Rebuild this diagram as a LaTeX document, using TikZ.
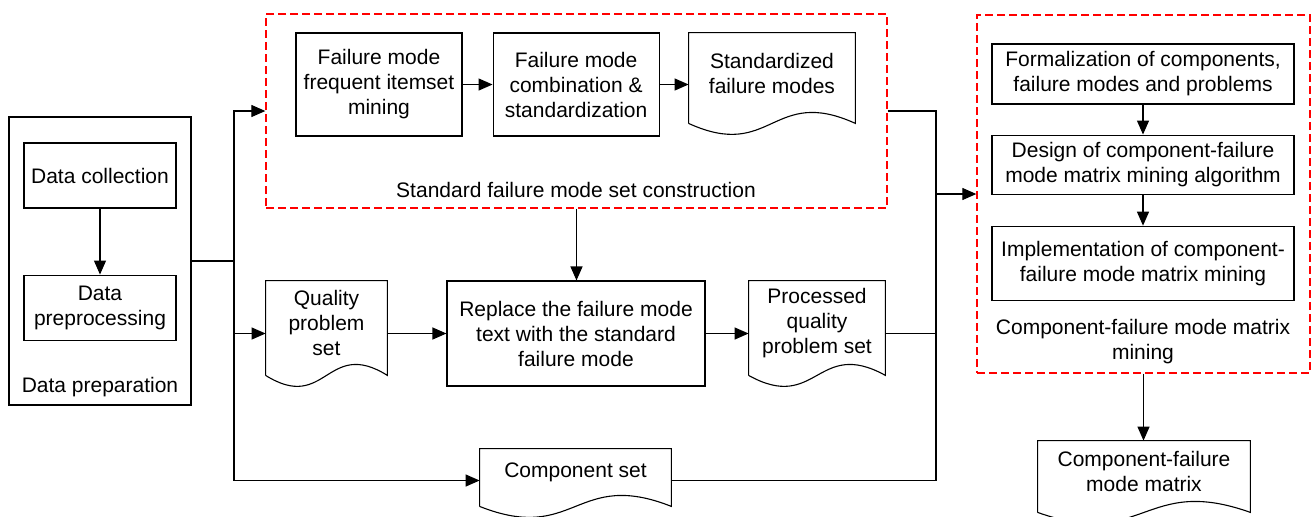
\documentclass[tikz,border=0pt]{standalone}
\usepackage{fontspec}
\setmainfont{Liberation Sans}
\usetikzlibrary{arrows.meta,positioning,calc}

% document shape: box with wavy bottom, drawn round a named node
\newcommand{\docwave}[1]{%
  \draw[outline] ($(#1.south west)+(0,10)$) -- (#1.north west) -- (#1.north east) -- ($(#1.south east)+(0,10)$)
    .. controls ($(#1.south)+(0,-28)$) and ($(#1.south)+(0,48)$) .. ($(#1.south west)+(0,10)$);}

\begin{document}
\begin{tikzpicture}[x=0.5pt,y=-0.5pt,font=\fontsize{10.5}{12.5}\selectfont,
	process/.style={rectangle,draw,line width=0.55pt,align=center,inner sep=1pt},
	doc/.style={rectangle,align=center,inner sep=1pt},
	outerbox/.style={rectangle,draw,line width=0.55pt,inner sep=0pt},
	group/.style={rectangle,draw=red,line width=0.65pt,dash pattern=on 4pt off 2pt,inner sep=0pt},
	outline/.style={line width=0.55pt},
	link/.style={line width=0.6pt},
	paths/.style={-{Triangle[length=7pt,width=6pt]},line width=0.6pt}
	]
\useasboundingbox (0,0) rectangle (1312,516);

% data preparation
\node [outerbox, minimum width=91pt, minimum height=144pt] (prep) at (100,261) {};
\node [process, minimum width=76pt, minimum height=32.5pt] (collect) at (100,175.5) {Data collection};
\node [process, minimum width=76pt, minimum height=32.5pt] (preproc) [below=33pt of collect] {Data\\preprocessing};
\node (preplabel) at (100,387) {Data preparation};

% standard failure mode set construction
\node [group, minimum width=310.5pt, minimum height=97pt] (construct) at (576.5,111) {};
\node [process, minimum width=83pt, minimum height=51.5pt] (fim) at (379,84.5) {Failure mode\\frequent itemset\\mining};
\node [process, minimum width=83pt, minimum height=51.5pt] (comb) [right=15pt of fim] {Failure mode\\combination \&\\standardization};
\node [doc, minimum width=83pt, minimum height=40pt] (stdfm) at (772,73) {Standardized\\failure modes};
\node (conlabel) at (576,190) {Standard failure mode set construction};

% middle and bottom rows
\node [doc, minimum width=60.5pt, minimum height=42pt] (quality) at (326.5,323) {Quality\\problem\\set};
\node [process, minimum width=129pt, minimum height=52.5pt] (replace) at (576,333.5) {Replace the failure mode\\text with the standard\\failure mode};
\node [doc, minimum width=68pt, minimum height=42pt] (processed) at (817,323) {Processed\\quality\\problem set};
\node [doc, minimum width=95.5pt, minimum height=23.5pt] (compset) at (575.5,472.5) {Component set};

% component-failure mode matrix mining
\node [group, minimum width=166.5pt, minimum height=179pt] (matrix) at (1143.5,194) {};
\node [process, minimum width=151pt, minimum height=30pt] (formal) at (1143,74) {Formalization of components,\\failure modes and problems};
\node [process, minimum width=151pt, minimum height=29.5pt] (design) [below=15pt of formal] {Design of component-failure\\mode matrix mining algorithm};
\node [process, minimum width=151pt, minimum height=37pt] (impl) [below=15.5pt of design] {Implementation of component-\\failure mode matrix mining};
\node [align=center] (matlabel) at (1143,342) {Component-failure mode matrix\\mining};
\node [doc, minimum width=106pt, minimum height=30.5pt] (cfm) at (1144,471.5) {Component-failure\\mode matrix};

\docwave{stdfm}
\docwave{quality}
\docwave{processed}
\docwave{compset}
\docwave{cfm}

% connectors
\coordinate (j1) at (234,261);
\coordinate (j2) at (936,194);
\draw [paths] (collect) -- (preproc);
\draw [link] (prep.east) -- (j1);
\draw [paths] (j1) |- (construct.west);
\draw [paths] (j1) |- (quality.west |- replace.west);
\draw [paths] (j1) |- ([yshift=-4pt]compset.west);
\draw [paths] (fim) -- (comb);
\draw [paths] (comb.east) -- (comb.east -| stdfm.west);
\draw [paths] (construct.south) -- (construct.south |- replace.north);
\draw [paths] (quality.east |- replace.west) -- (replace.west);
\draw [paths] (replace.east) -- (replace.east -| processed.west);
\draw [paths] (construct.east) -| (j2) -- (matrix.west);
\draw [link] (processed.east |- replace.east) -| (j2);
\draw [link] ([yshift=-4pt]compset.east) -| (j2);
\draw [paths] (formal) -- (design);
\draw [paths] (design) -- (impl);
\draw [paths] (matrix.south) -- (matrix.south |- cfm.north);
\end{tikzpicture}
\end{document}
